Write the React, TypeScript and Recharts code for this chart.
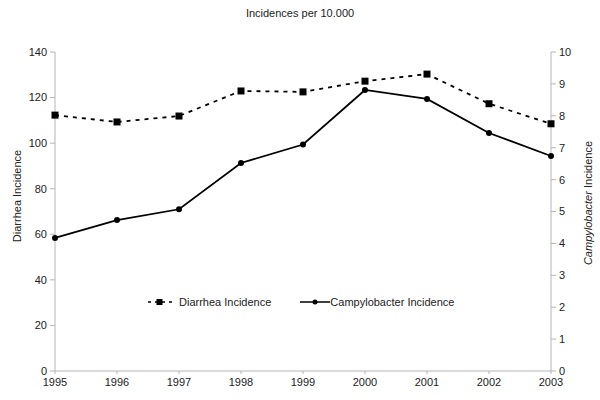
import React from "react";
import { LineChart, Line, XAxis, YAxis } from "recharts";

const years = ["1995", "1996", "1997", "1998", "1999", "2000", "2001", "2002", "2003"];
const diarrhea = [112.3, 109.3, 111.9, 122.9, 122.5, 127.2, 130.3, 117.3, 108.5];
const campylobacter = [4.17, 4.73, 5.07, 6.52, 7.1, 8.81, 8.53, 7.46, 6.74];
const leftTicks = [0, 20, 40, 60, 80, 100, 120, 140];
const rightTicks = [0, 1, 2, 3, 4, 5, 6, 7, 8, 9, 10];

const data = years.map((year, i) => ({
  year,
  diarrhea: diarrhea[i],
  campylobacter: campylobacter[i],
}));

const FONT = "'Liberation Sans', Arial, sans-serif";
const AXIS = "#b5b5b5";
const tickStyle = { fontSize: 11, fill: "#222", fontFamily: FONT };

const SquareDot = (props: any) => {
  const { cx, cy, index } = props;
  return <rect key={`sq-${index}`} x={cx - 3.5} y={cy - 3.5} width={7} height={7} fill="#000" />;
};

const CircleDot = (props: any) => {
  const { cx, cy, index } = props;
  return <circle key={`c-${index}`} cx={cx} cy={cy} r={3} fill="#000" />;
};

// legend drawn outside recharts so it doesn't eat plot height
const ChartLegend = () => (
  <div
    style={{
      position: "absolute",
      top: 296,
      left: 146,
      display: "flex",
      alignItems: "center",
      fontFamily: FONT,
      fontSize: 11,
      color: "#222",
    }}
  >
    <svg width={30} height={10} style={{ marginRight: 3 }}>
      <line x1={2} y1={5} x2={26} y2={5} stroke="#000" strokeWidth={1.5} strokeDasharray="3 4" />
      <rect x={10.5} y={2} width={6} height={6} fill="#000" />
    </svg>
    <span style={{ marginRight: 29 }}>Diarrhea Incidence</span>
    <svg width={30} height={10}>
      <line x1={0} y1={5} x2={30} y2={5} stroke="#000" strokeWidth={1.5} />
      <circle cx={15} cy={5} r={2.5} fill="#000" />
    </svg>
    <span>Campylobacter Incidence</span>
  </div>
);

export default function App() {
  return (
    <div style={{ position: "absolute", left: 0, top: 0, width: 600, height: 400, background: "#fff" }}>
      <div
        style={{
          position: "absolute",
          top: 7,
          width: 600,
          textAlign: "center",
          fontFamily: FONT,
          fontSize: 11,
          color: "#222",
        }}
      >
        Incidences per 10.000
      </div>
      <LineChart width={600} height={400} data={data} margin={{ top: 52, right: 0, bottom: 0, left: 0 }}>
        <XAxis
          dataKey="year"
          height={29}
          padding={{ left: 0, right: 0 }}
          tick={tickStyle}
          tickSize={3}
          tickMargin={4}
          stroke={AXIS}
          interval={0}
        />
        <YAxis
          yAxisId="left"
          width={55}
          domain={[0, 140]}
          ticks={leftTicks}
          tick={tickStyle}
          tickSize={5}
          tickMargin={3}
          stroke={AXIS}
          label={{
            content: () => (
              <text
                x={17}
                y={196}
                transform="rotate(-90, 17, 196)"
                textAnchor="middle"
                dominantBaseline="central"
                style={{ fontSize: 11, fill: "#222", fontFamily: FONT }}
              >
                Diarrhea Incidence
              </text>
            ),
          }}
        />
        <YAxis
          yAxisId="right"
          orientation="right"
          width={49}
          domain={[0, 10]}
          ticks={rightTicks}
          tick={tickStyle}
          tickSize={5}
          tickMargin={3}
          stroke={AXIS}
          label={{
            content: () => (
              <text
                x={588}
                y={203}
                transform="rotate(-90, 588, 203)"
                textAnchor="middle"
                dominantBaseline="central"
                style={{ fontSize: 11, fill: "#222", fontFamily: FONT }}
              >
                <tspan fontStyle="italic">Campylobacter</tspan>
                <tspan> Incidence</tspan>
              </text>
            ),
          }}
        />
        <Line
          yAxisId="left"
          dataKey="diarrhea"
          stroke="#000"
          strokeWidth={1.8}
          strokeDasharray="4 5"
          dot={SquareDot}
          activeDot={false}
          isAnimationActive={false}
        />
        <Line
          yAxisId="right"
          dataKey="campylobacter"
          stroke="#000"
          strokeWidth={1.8}
          dot={CircleDot}
          activeDot={false}
          isAnimationActive={false}
        />
      </LineChart>
      <ChartLegend />
    </div>
  );
}
